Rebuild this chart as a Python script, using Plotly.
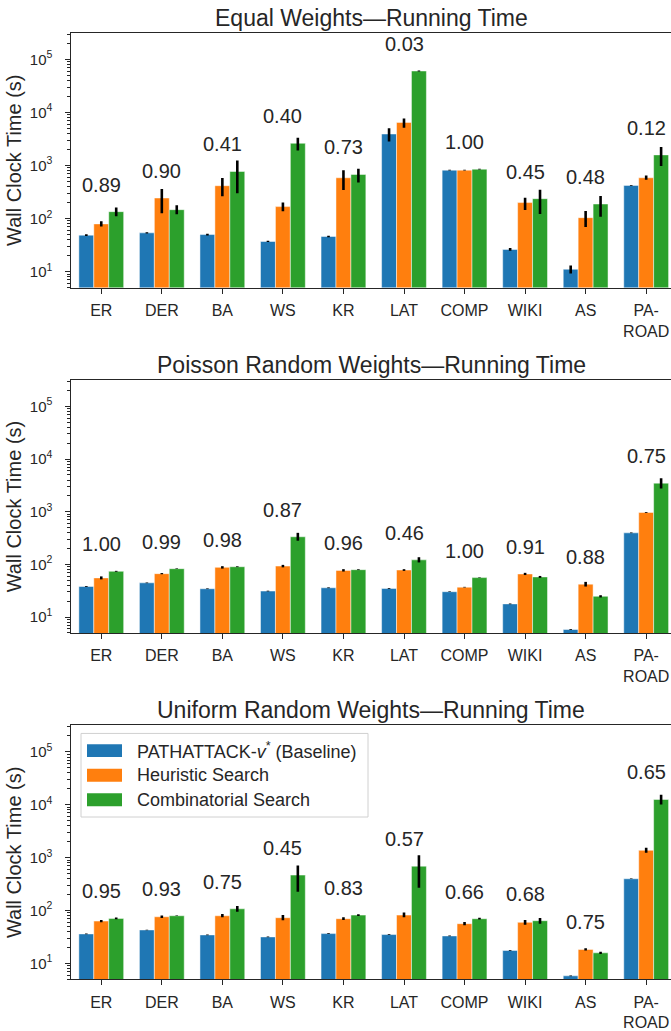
import math
import plotly.graph_objects as go

categories = ["ER", "DER", "BA", "WS", "KR", "LAT", "COMP", "WIKI", "AS", "PA-ROAD"]
tick_labels = ["ER", "DER", "BA", "WS", "KR", "LAT", "COMP", "WIKI", "AS", "PA-<br>ROAD"]
series_names = ["PATHATTACK-<i>v</i><sup>*</sup> (Baseline)", "Heuristic Search", "Combinatorial Search"]
colors = ["#1f77b4", "#ff7f0e", "#2ca02c"]
panel_titles = ["Equal Weights\u2014Running Time",
                "Poisson Random Weights\u2014Running Time",
                "Uniform Random Weights\u2014Running Time"]

# ---- Equal weights ----
eq_base = [48.7, 53.8, 50, 37, 46, 3925, 818, 26.2, 11.1, 422]
eq_base_hi = [50.5, 55, 52, 38, 47.5, 5012, 830, 27.8, 13, 430]
eq_base_lo = [47, 52.5, 48, 36, 44.5, 2818, 806, 24.7, 9.2, 414]
eq_heur = [79.4, 244, 416, 168, 587, 6494, 818, 200, 104, 587]
eq_heur_hi = [89, 360, 579, 200, 818, 7720, 828, 248, 139, 650]
eq_heur_lo = [71, 126, 262, 137, 345, 5158, 808, 145, 69, 537]
eq_comb = [135, 147, 772, 2624, 678, 60400, 853, 237, 188, 1585]
eq_comb_hi = [161, 178, 1241, 3350, 866, 61500, 865, 350, 266, 2239]
eq_comb_lo = [111, 121, 299, 1911, 480, 59300, 841, 122, 108, 977]
eq_scores = ["0.89", "0.90", "0.41", "0.40", "0.73", "0.03", "1.00", "0.45", "0.48", "0.12"]

# ---- Poisson random weights ----
po_base = [38.1, 44.7, 34.5, 31.2, 36, 35, 30.3, 17.8, 5.8, 398]
po_base_hi = [38.8, 45.3, 35, 31.7, 36.6, 35.6, 30.7, 18.1, 5.9, 404]
po_base_lo = [37.4, 44, 34, 30.7, 35.4, 34.4, 29.9, 17.5, 5.7, 392]
po_heur = [55.5, 66.8, 87.9, 93, 77, 78.3, 37, 65.9, 42.2, 972]
po_heur_hi = [59.2, 68.5, 92.6, 98, 81.3, 81.2, 37.5, 69.2, 46.6, 990]
po_heur_lo = [52, 65.1, 83.4, 88, 73.3, 75.4, 36.5, 62.8, 38, 955]
po_comb = [74, 83, 90.4, 335, 79.4, 122, 56.2, 57.9, 24.8, 3500]
po_comb_hi = [75.5, 84, 92, 398, 80.8, 137, 56.8, 60.4, 26, 4340]
po_comb_lo = [72.5, 82, 88.8, 282, 78, 109, 55.6, 55.5, 23.6, 2780]
po_scores = ["1.00", "0.99", "0.98", "0.87", "0.96", "0.46", "1.00", "0.91", "0.88", "0.75"]

# ---- Uniform random weights ----
un_base = [36, 42.8, 34.5, 31.6, 36.5, 35, 33, 17.5, 5.8, 398]
un_base_hi = [36.5, 43.3, 35, 32, 37, 35.5, 33.5, 17.8, 5.9, 404]
un_base_lo = [35.5, 42.3, 34, 31.2, 36, 34.5, 32.5, 17.2, 5.7, 392]
un_heur = [63, 76, 79.4, 72.9, 69.8, 81.7, 56.2, 59.6, 18.3, 1372]
un_heur_hi = [66.2, 80, 85.3, 81.7, 74, 91.7, 60.4, 65.9, 19.3, 1540]
un_heur_lo = [60, 72.3, 74, 65, 66, 74, 52.3, 53.8, 17.4, 1241]
un_comb = [70.8, 79.4, 107.5, 467, 81.7, 688, 69.8, 64, 15.8, 12590]
un_comb_hi = [73.3, 80.5, 121, 708, 85, 1106, 72.5, 71.8, 16.6, 15400]
un_comb_lo = [68.5, 78.3, 94.4, 227, 78.5, 270, 67.3, 56.2, 15, 10140]
un_scores = ["0.95", "0.93", "0.75", "0.45", "0.83", "0.57", "0.66", "0.68", "0.75", "0.65"]

y_tickvals = [10, 100, 1000, 10000, 100000]
y_ticktext = ["10<sup>1</sup>", "10<sup>2</sup>", "10<sup>3</sup>", "10<sup>4</sup>", "10<sup>5</sup>"]

panels = [
    [(eq_base, eq_base_hi, eq_base_lo), (eq_heur, eq_heur_hi, eq_heur_lo), (eq_comb, eq_comb_hi, eq_comb_lo), eq_scores],
    [(po_base, po_base_hi, po_base_lo), (po_heur, po_heur_hi, po_heur_lo), (po_comb, po_comb_hi, po_comb_lo), po_scores],
    [(un_base, un_base_hi, un_base_lo), (un_heur, un_heur_hi, un_heur_lo), (un_comb, un_comb_hi, un_comb_lo), un_scores],
]

W, H = 671, 1031
FONT = "Liberation Sans, Arial, Helvetica, sans-serif"
TXT = "#262626"
# pixel layout of each panel: (top, bottom)
panel_px = [(33, 289), (382, 636), (729, 984)]
x_left_px = 71

fig = go.Figure()
layout = dict(
    width=W, height=H,
    margin=dict(l=0, r=0, t=0, b=0),
    paper_bgcolor="white", plot_bgcolor="white",
    barmode="group", bargap=0.26, bargroupgap=0.0,
    showlegend=False,
    font=dict(family=FONT, color=TXT, size=16),
)
annotations = []
shapes = []

minor_vals = [m * 10 ** k for k in range(0, 6) for m in range(2, 10)]

for p, panel in enumerate(panels):
    idx = "" if p == 0 else str(p + 1)
    xa, ya = "x" + idx, "y" + idx
    top, bot = panel_px[p]
    for s in range(3):
        vals, hi, lo = panel[s]
        fig.add_trace(go.Bar(
            x=categories, y=vals, name=series_names[s],
            marker=dict(color=colors[s], line=dict(color="rgba(255,255,255,0.6)", width=0.8)),
            error_y=dict(type="data", symmetric=False,
                         array=[h - v for h, v in zip(hi, vals)],
                         arrayminus=[v - l for l, v in zip(lo, vals)],
                         color="black", thickness=2.6, width=0),
            xaxis=xa, yaxis=ya, showlegend=(p == 2),
        ))
    layout["xaxis" + idx] = dict(
        domain=[x_left_px / W, 1], anchor=ya,
        type="category", categoryorder="array", categoryarray=categories,
        range=[-0.5, 9.41],
        tickmode="array", tickvals=categories, ticktext=tick_labels,
        ticks="outside", ticklen=5, tickwidth=1.2, tickcolor=TXT,
        showline=True, linecolor=TXT, linewidth=1.3, mirror=True,
        showgrid=False, zeroline=False,
        tickfont=dict(size=16, color=TXT, family=FONT),
        ticklabelstandoff=3,
    )
    layout["yaxis" + idx] = dict(
        domain=[1 - bot / H, 1 - top / H], anchor=xa,
        type="log", range=[math.log10(5), 5.5],
        tickmode="array", tickvals=y_tickvals, ticktext=y_ticktext,
        ticks="outside", ticklen=4.5, tickwidth=1.2, tickcolor=TXT,
        minor=dict(tickmode="array", tickvals=minor_vals, ticks="outside",
                   ticklen=2.5, tickwidth=1, tickcolor=TXT, showgrid=False),
        showline=True, linecolor=TXT, linewidth=1.3, mirror=False,
        showgrid=False, zeroline=False,
        tickfont=dict(size=15, color=TXT, family=FONT),
        ticklabelstandoff=10,
        title=dict(text="Wall Clock Time (s)", font=dict(size=20, color=TXT, family=FONT), standoff=2),
    )
    # panel title
    annotations.append(dict(
        text=panel_titles[p], xref=xa + " domain", yref=ya + " domain",
        x=0.5, y=1, xanchor="center", yanchor="bottom", yshift=0, showarrow=False,
        font=dict(size=23, color=TXT, family=FONT),
    ))
    # score labels above each group
    scores = panel[3]
    for i, c in enumerate(categories):
        top_val = max(panel[0][0][i], panel[1][0][i], panel[2][0][i])
        annotations.append(dict(
            text=scores[i], x=c, y=math.log10(top_val), xref=xa, yref=ya,
            xanchor="center", yanchor="bottom", yshift=14, showarrow=False,
            font=dict(size=20, color=TXT, family=FONT),
        ))

# legend drawn in the third panel (upper left)
pt, pb = panel_px[2]
ph = pb - pt
pw = W - x_left_px
def dx(px):
    return (px - x_left_px) / pw
def dy(py):
    return (pb - py) / ph
shapes.append(dict(type="rect", xref="x3 domain", yref="y3 domain",
                   x0=dx(81), x1=dx(368), y0=dy(821), y1=dy(737),
                   line=dict(color="#d0d0d0", width=1), fillcolor="rgba(255,255,255,0.85)", layer="above"))
row_y = [754.3, 779.0, 803.7]
for s in range(3):
    shapes.append(dict(type="rect", xref="x3 domain", yref="y3 domain",
                       x0=dx(87), x1=dx(122), y0=dy(row_y[s] + 6.5), y1=dy(row_y[s] - 6.5),
                       line=dict(width=0), fillcolor=colors[s], layer="above"))
    annotations.append(dict(
        text=series_names[s], xref="x3 domain", yref="y3 domain",
        x=dx(135), y=dy(row_y[s]), xanchor="left", yanchor="middle", showarrow=False,
        font=dict(size=18, color=TXT, family=FONT),
    ))

layout["annotations"] = annotations
layout["shapes"] = shapes
fig.update_layout(**layout)
fig.write_html("out.html", config={"displayModeBar": False},
               post_script="document.body.style.margin='0';document.body.style.overflow='hidden';")
